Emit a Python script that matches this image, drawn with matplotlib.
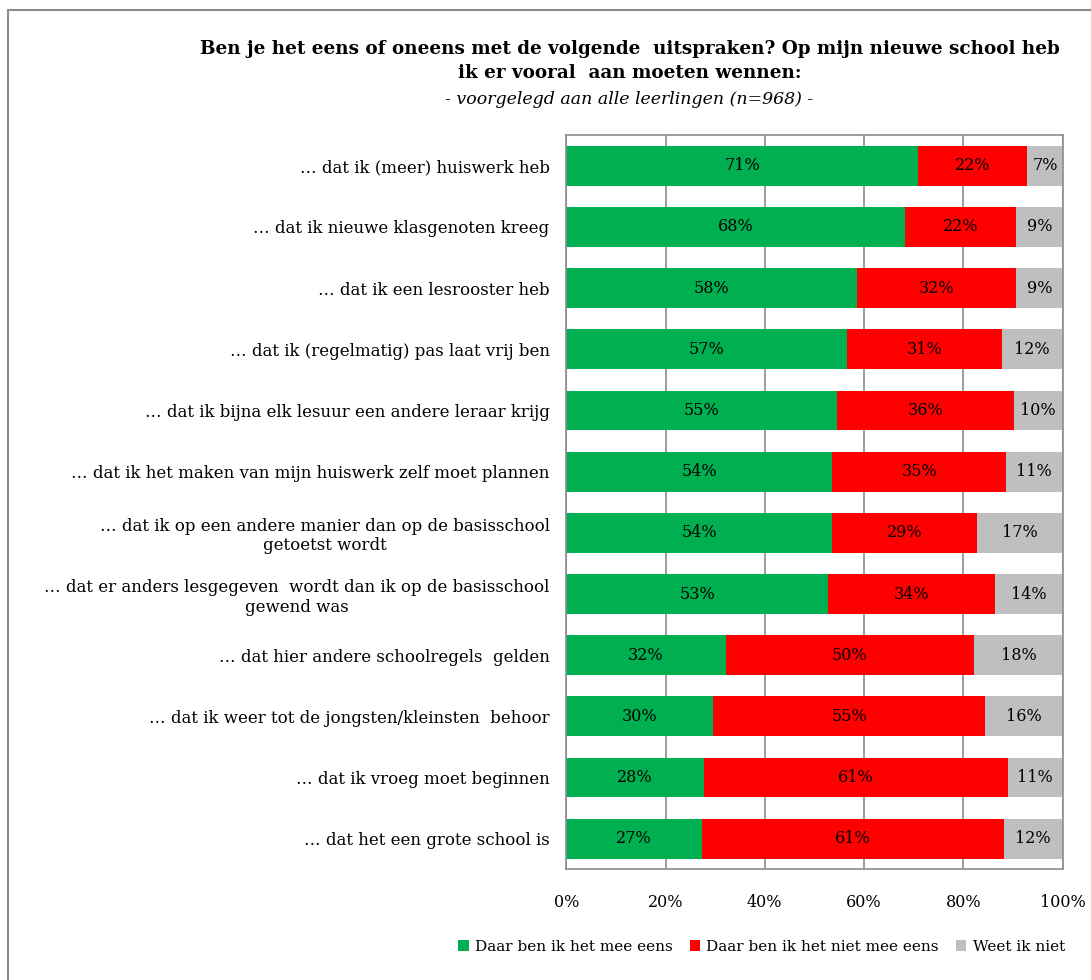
import matplotlib
matplotlib.use("Agg")
import matplotlib.pyplot as plt
from matplotlib.patches import Rectangle

categories = [
    "… dat ik (meer) huiswerk heb",
    "… dat ik nieuwe klasgenoten kreeg",
    "… dat ik een lesrooster heb",
    "… dat ik (regelmatig) pas laat vrij ben",
    "… dat ik bijna elk lesuur een andere leraar krijg",
    "… dat ik het maken van mijn huiswerk zelf moet plannen",
    "… dat ik op een andere manier dan op de basisschool\ngetoetst wordt",
    "… dat er anders lesgegeven  wordt dan ik op de basisschool\ngewend was",
    "… dat hier andere schoolregels  gelden",
    "… dat ik weer tot de jongsten/kleinsten  behoor",
    "… dat ik vroeg moet beginnen",
    "… dat het een grote school is",
]
eens = [70.9, 68.2, 58.5, 56.6, 54.6, 53.6, 53.6, 52.8, 32.1, 29.6, 27.8, 27.3]
niet_eens = [22.0, 22.4, 32.1, 31.1, 35.6, 35.0, 29.1, 33.6, 50.1, 54.8, 61.1, 60.8]
weet_niet = [7.1, 9.4, 9.4, 12.3, 9.8, 11.4, 17.3, 13.6, 17.8, 15.6, 11.1, 11.9]
series_names = ["Daar ben ik het mee eens", "Daar ben ik het niet mee eens", "Weet ik niet"]
colors = ["#00B050", "#FF0000", "#BFBFBF"]
xticks = [0, 20, 40, 60, 80, 100]

plt.rcParams['font.family'] = ['DejaVu Serif']

fig = plt.figure(figsize=(10.91, 9.8), dpi=100)
ax = fig.add_axes([0.519, 0.113, 0.455, 0.749])

y = list(range(len(categories)))
left = [0.0] * len(categories)
for vals, name, col in zip([eens, niet_eens, weet_niet], series_names, colors):
    ax.barh(y, vals, left=left, height=0.65, color=col, label=name, zorder=2)
    for yi, l, v in zip(y, left, vals):
        ax.text(l + v / 2, yi, f"{round(v):d}%", ha='center', va='center',
                fontsize=11.5, color='black', zorder=3)
    left = [a + b for a, b in zip(left, vals)]

ax.set_ylim(len(categories) - 0.5, -0.5)
ax.set_xlim(0, 100)
ax.set_yticks(y)
ax.set_yticklabels(categories, fontsize=12, multialignment='center')
ax.set_xticks(xticks)
ax.set_xticklabels([f"{t}%" for t in xticks], fontsize=11.5)
ax.tick_params(axis='y', length=0, pad=12)
ax.tick_params(axis='x', length=0, pad=18)
ax.grid(axis='x', color='#8C8C8C', linewidth=1.2, zorder=1)
ax.set_axisbelow(True)
for s in ax.spines.values():
    s.set_color('#8C8C8C')
    s.set_linewidth(1.2)

fig.text(0.577, 0.938, "Ben je het eens of oneens met de volgende  uitspraken? Op mijn nieuwe school heb\nik er vooral  aan moeten wennen:",
         ha='center', va='center', fontsize=13.2, fontweight='bold', linespacing=1.4)
fig.text(0.577, 0.898, "- voorgelegd aan alle leerlingen (n=968) -", ha='center', va='center',
         fontsize=12.5, style='italic')

fig.legend(loc='center', bbox_to_anchor=(0.698, 0.034), ncol=3, frameon=False,
           fontsize=11, handlelength=0.7, handleheight=0.7, handletextpad=0.4,
           columnspacing=1.1)

fig.patches.append(Rectangle((8 / 1091, -0.1), 1.2, 1 - 10 / 980 + 0.1, transform=fig.transFigure,
                             fill=False, edgecolor='#8C8C8C', linewidth=1.5))

fig.savefig("out.png", dpi=100)
